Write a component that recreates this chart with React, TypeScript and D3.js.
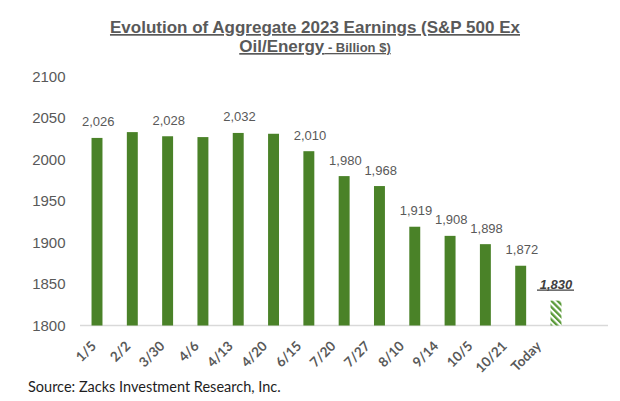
import React from "react";
import * as d3 from "d3";

const categories = ["1/5", "2/2", "3/30", "4/6", "4/13", "4/20", "6/15", "7/20", "7/27", "8/10", "9/14", "10/5", "10/21", "Today"];
const earnings = [2026, 2033, 2028, 2027, 2032, 2031, 2010, 1980, 1968, 1919, 1908, 1898, 1872, 1830];
const showLabel = [true, false, true, false, true, false, true, true, true, true, true, true, true, true];
const estimateFlag = [false, false, false, false, false, false, false, false, false, false, false, false, false, true];
const yTicks = [1800, 1850, 1900, 1950, 2000, 2050, 2100];
const titleLine1 = "Evolution of Aggregate 2023 Earnings (S&P 500 Ex";
const titleLine2a = "Oil/Energy";
const titleLine2b = " - Billion $)";
const sourceText = "Source: Zacks Investment Research, Inc.";

const W = 620;
const H = 401;
const GREEN = "#4a8228";
const GRAY = "#595959";

export default function App() {
  const x = d3.scaleBand<string>().domain(categories).range([79.35, 573.65]).paddingInner(0.69).paddingOuter(0.345);
  const y = d3.scaleLinear().domain([1800, 2100]).range([325.5, 76.5]);
  const xl = d3.scalePoint<string>().domain(categories).range([97, 542]);
  const fmt = d3.format(",");
  const bw = x.bandwidth();

  return (
    <svg width={W} height={H} style={{ position: "absolute", left: 0, top: 0, background: "#fff" }}>
      <defs>
        <pattern id="hatch" patternUnits="userSpaceOnUse" width="4.4" height="4.4" patternTransform="rotate(-45)">
          <rect x="0" y="0" width="4.4" height="4.4" fill="#ffffff" />
          <rect x="0" y="0" width="2.3" height="4.4" fill="#5a9a38" />
        </pattern>
      </defs>
      <rect x={0} y={0} width={W} height={H} fill="#fff" />

      <g fontFamily="'Liberation Sans', Arial, sans-serif" fontWeight="bold" fill={GRAY} textAnchor="middle">
        <text x={315} y={33} fontSize={17} textDecoration="underline">{titleLine1}</text>
        <text x={315} y={52} fontSize={17} textDecoration="underline">
          {titleLine2a}
          <tspan fontSize={13}>{titleLine2b}</tspan>
        </text>
      </g>

      <g fontFamily="'Liberation Sans', Arial, sans-serif" fontSize={15} fill={GRAY} textAnchor="end">
        {yTicks.map((t) => (
          <text key={t} x={65.5} y={y(t)} dy="0.36em">{t}</text>
        ))}
      </g>

      <line x1={80} x2={608} y1={y(1800)} y2={y(1800)} stroke="#d9d9d9" strokeWidth={1.5} />

      {categories.map((c, i) => (
        <rect key={c} x={x(c)} y={y(earnings[i])} width={bw} height={y(1800) - y(earnings[i])}
          fill={estimateFlag[i] ? "url(#hatch)" : GREEN} />
      ))}

      <g fontFamily="'Liberation Sans', Arial, sans-serif" fontSize={13} textAnchor="middle">
        {categories.map((c, i) => {
          if (!showLabel[i]) return null;
          const cx = (x(c) as number) + bw / 2;
          const top = y(earnings[i]);
          if (estimateFlag[i]) {
            return (
              <g key={c}>
                <text x={cx} y={top - 12} fill="#404040" fontWeight="bold" fontStyle="italic">{fmt(earnings[i])}</text>
                <line x1={cx - 19} x2={cx + 18} y1={top - 10.5} y2={top - 10.5} stroke="#404040" strokeWidth={1.3} />
              </g>
            );
          }
          return (
            <text key={c} x={cx + 1.2} y={top - 11.5} fill={GRAY}>{fmt(earnings[i])}</text>
          );
        })}
      </g>

      <g fontFamily="Lato, 'Open Sans', sans-serif" fontSize={13.5} fill={GRAY} textAnchor="end" fontWeight="bold">
        {categories.map((c) => {
          const lx = xl(c) as number;
          const ly = 347;
          return (
            <text key={c} x={lx} y={ly} transform={`rotate(-45 ${lx} ${ly})`}>{c}</text>
          );
        })}
      </g>

      <text x={28} y={392} fontFamily="Lato, 'Open Sans', sans-serif" fontSize={14.5} fill="#1e1e1e">{sourceText}</text>
    </svg>
  );
}
